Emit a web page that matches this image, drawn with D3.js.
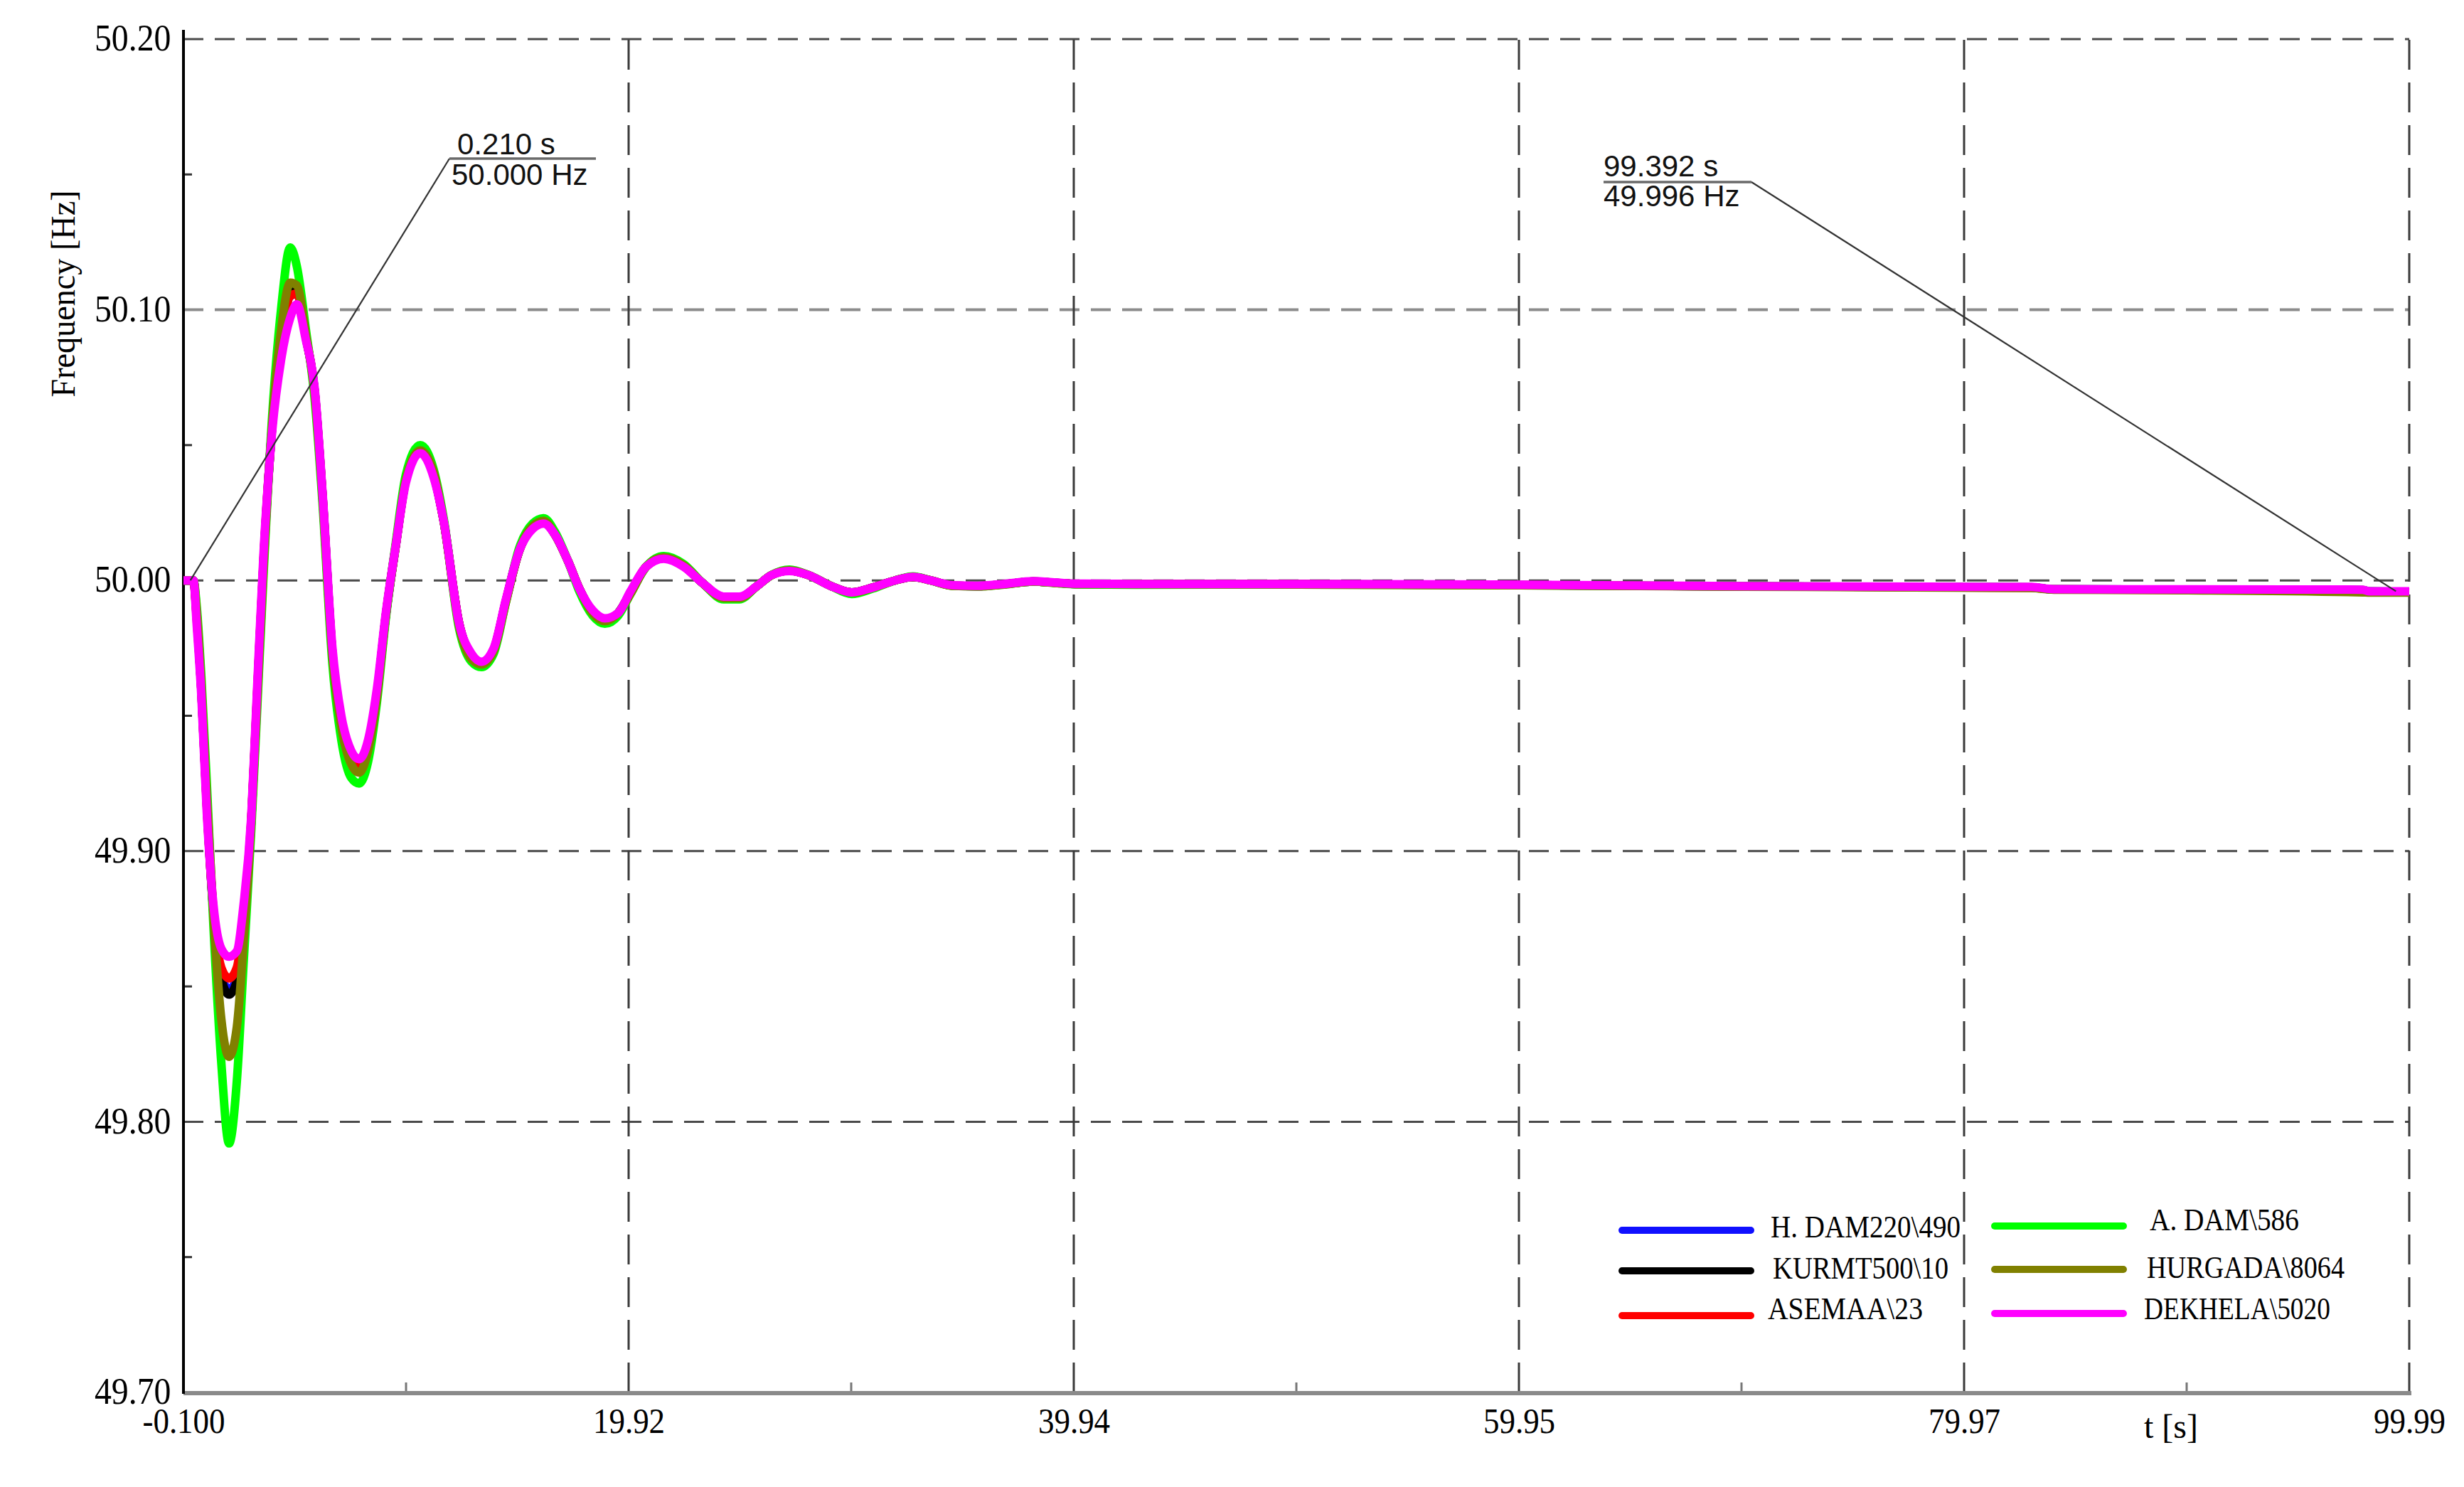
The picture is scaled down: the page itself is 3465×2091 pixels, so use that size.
<!DOCTYPE html>
<html>
<head>
<meta charset="utf-8">
<script src="https://cdn.jsdelivr.net/npm/d3@7"></script>
<style>
  html, body { margin: 0; padding: 0; background: #fff; }
  svg { display: block; }
</style>
</head>
<body>
<svg id="chart" width="3465" height="2091"></svg>
<script>
// ---------------- DATA ----------------
const time = [-0.1, 0.2, 0.35, 0.5, 0.7, 0.95, 1.25, 1.6, 1.95, 2.3,
  2.6, 2.95, 3.2, 3.5, 3.9, 4.3, 4.7, 5.0, 5.4, 5.8,
  6.15, 6.6, 7.0, 7.45, 7.8, 8.2, 8.6, 9.0, 9.45, 9.9,
  10.55, 11.15, 11.6, 12.3, 12.85, 13.3, 13.85, 14.4, 15.0, 15.6,
  16.1, 16.6, 17.2, 17.7, 18.3, 18.85, 19.45, 20.0, 20.7, 21.5,
  22.4, 23.25, 24.2, 24.9, 25.7, 26.35, 27.15, 28.0, 29.0, 29.95,
  30.9, 31.9, 32.7, 33.5, 34.5, 35.6, 36.8, 38.1, 39.2, 40.0,
  42.7, 50, 60, 70, 83, 84, 90, 97.9, 98.2, 99.99];

const hDam = [50.000, 50.000, 50.000, 49.986, 49.960, 49.917, 49.877, 49.854, 49.849, 49.853,
  49.874, 49.911, 49.955, 50.007, 50.058, 50.088, 50.105, 50.106, 50.090, 50.070,
  50.032, 49.973, 49.947, 49.933, 49.930, 49.938, 49.958, 49.987, 50.013, 50.037,
  50.048, 50.039, 50.022, 49.984, 49.972, 49.9694, 49.9744, 49.9925, 50.011, 50.0196,
  50.0216, 50.017, 50.007, 49.997, 49.9885, 49.9854, 49.988, 49.9955, 50.005, 50.0083,
  50.0053, 49.999, 49.9936, 49.9936, 49.998, 50.002, 50.0036, 50.002, 49.998, 49.9956,
  49.9974, 50.000, 50.0013, 50.000, 49.9981, 49.9979, 49.9986, 49.9996, 49.9991, 49.9987,
  49.9986, 49.9986, 49.9983, 49.9978, 49.9974, 49.9967, 49.9966, 49.9964, 49.9959, 49.9958];

const kurmt = [50.000, 50.000, 50.000, 49.986, 49.960, 49.917, 49.877, 49.853, 49.847, 49.852,
  49.873, 49.911, 49.955, 50.007, 50.058, 50.089, 50.106, 50.107, 50.090, 50.070,
  50.032, 49.973, 49.947, 49.933, 49.930, 49.938, 49.958, 49.987, 50.013, 50.037,
  50.048, 50.039, 50.022, 49.984, 49.972, 49.9693, 49.9743, 49.9925, 50.011, 50.0197,
  50.0217, 50.017, 50.007, 49.997, 49.9884, 49.9853, 49.988, 49.9955, 50.005, 50.0083,
  50.0053, 49.999, 49.9936, 49.9936, 49.998, 50.002, 50.0036, 50.002, 49.998, 49.9956,
  49.9974, 50.000, 50.0013, 50.000, 49.9981, 49.9979, 49.9986, 49.9996, 49.9991, 49.9987,
  49.9986, 49.9986, 49.9983, 49.9978, 49.9974, 49.9967, 49.9966, 49.9964, 49.9959, 49.9958];

const asemaa = [50.000, 50.000, 50.000, 49.985, 49.960, 49.916, 49.878, 49.857, 49.853, 49.857,
  49.876, 49.912, 49.956, 50.008, 50.058, 50.088, 50.105, 50.106, 50.090, 50.070,
  50.032, 49.973, 49.948, 49.934, 49.931, 49.939, 49.958, 49.987, 50.013, 50.037,
  50.048, 50.039, 50.022, 49.984, 49.972, 49.9695, 49.9745, 49.9925, 50.011, 50.0195,
  50.0215, 50.017, 50.007, 49.997, 49.9885, 49.9855, 49.988, 49.9955, 50.005, 50.0082,
  50.0052, 49.999, 49.9937, 49.9937, 49.998, 50.002, 50.0036, 50.002, 49.998, 49.9956,
  49.9974, 50.000, 50.0013, 50.000, 49.9981, 49.9979, 49.9986, 49.9996, 49.9991, 49.9987,
  49.9986, 49.9986, 49.9983, 49.9978, 49.9973, 49.9967, 49.9965, 49.9963, 49.9958, 49.9957];

const aDam = [50.000, 50.000, 50.000, 49.990, 49.965, 49.925, 49.872, 49.822, 49.792, 49.815,
  49.858, 49.908, 49.950, 50.002, 50.062, 50.101, 50.123, 50.116, 50.093, 50.067,
  50.029, 49.969, 49.941, 49.927, 49.925, 49.933, 49.955, 49.986, 50.014, 50.039,
  50.050, 50.041, 50.023, 49.982, 49.970, 49.968, 49.973, 49.992, 50.012, 50.021,
  50.023, 50.018, 50.007, 49.996, 49.987, 49.984, 49.987, 49.995, 50.005, 50.009,
  50.006, 49.999, 49.993, 49.993, 49.998, 50.002, 50.004, 50.002, 49.998, 49.995,
  49.997, 50.000, 50.0015, 50.000, 49.998, 49.9978, 49.9985, 49.9996, 49.999, 49.9986,
  49.9984, 49.9985, 49.9982, 49.9978, 49.9975, 49.9967, 49.9966, 49.9965, 49.9959, 49.9958];

const hurgada = [50.000, 50.000, 50.000, 49.988, 49.962, 49.920, 49.876, 49.838, 49.824, 49.835,
  49.866, 49.911, 49.953, 50.005, 50.059, 50.093, 50.110, 50.109, 50.091, 50.069,
  50.031, 49.972, 49.946, 49.932, 49.929, 49.937, 49.957, 49.987, 50.013, 50.037,
  50.048, 50.040, 50.022, 49.983, 49.971, 49.969, 49.974, 49.992, 50.011, 50.020,
  50.022, 50.017, 50.007, 49.997, 49.988, 49.985, 49.988, 49.995, 50.005, 50.0085,
  50.0055, 49.999, 49.9935, 49.9935, 49.998, 50.002, 50.0037, 50.002, 49.998, 49.9955,
  49.9973, 50.000, 50.0013, 50.000, 49.998, 49.9978, 49.9985, 49.9996, 49.999, 49.9987,
  49.9986, 49.9985, 49.9982, 49.9977, 49.9972, 49.9966, 49.9964, 49.9956, 49.9955, 49.9955];

const dekhela = [50.000, 50.000, 50.000, 49.983, 49.958, 49.914, 49.880, 49.864, 49.861, 49.863,
  49.880, 49.913, 49.958, 50.010, 50.056, 50.082, 50.097, 50.102, 50.089, 50.071,
  50.033, 49.975, 49.950, 49.937, 49.934, 49.941, 49.960, 49.988, 50.013, 50.036,
  50.047, 50.038, 50.022, 49.984, 49.973, 49.970, 49.975, 49.993, 50.011, 50.019,
  50.021, 50.017, 50.007, 49.997, 49.989, 49.986, 49.988, 49.996, 50.005, 50.008,
  50.005, 49.999, 49.994, 49.994, 49.998, 50.002, 50.0035, 50.002, 49.998, 49.9956,
  49.9974, 50.000, 50.0013, 50.000, 49.9982, 49.998, 49.9987, 49.9997, 49.9992, 49.9988,
  49.9987, 49.9987, 49.9984, 49.9979, 49.9976, 49.9968, 49.9967, 49.9966, 49.9960, 49.9960];

const seriesNames = ["H. DAM220\\490", "KURMT500\\10", "ASEMAA\\23", "A. DAM\\586", "HURGADA\\8064", "DEKHELA\\5020"];
const seriesColors = ["#1010ff", "#000000", "#ff0000", "#00ff00", "#808000", "#ff00ff"];
const seriesValues = [hDam, kurmt, asemaa, aDam, hurgada, dekhela];

const xTickValues = [-0.1, 19.918, 39.936, 59.954, 79.972, 99.99];
const xTickLabels = ["-0.100", "19.92", "39.94", "59.95", "79.97", "99.99"];
const xMinorTicks = [9.909, 29.927, 49.945, 69.963, 89.981];
const yTickValues = [49.70, 49.80, 49.90, 50.00, 50.10, 50.20];
const yTickLabels = ["49.70", "49.80", "49.90", "50.00", "50.10", "50.20"];
const yMinorTicks = [49.75, 49.85, 49.95, 50.05, 50.15];

const annotations = [
  { t: 0.210, f: 50.000, tLabel: "0.210 s", fLabel: "50.000 Hz" },
  { t: 99.392, f: 49.996, tLabel: "99.392 s", fLabel: "49.996 Hz" }
];

// ---------------- LAYOUT ----------------
const svg = d3.select("#chart");
const pL = 258, pR = 3388, pT = 55, pB = 1958;

const x = d3.scaleLinear().domain([-0.1, 99.99]).range([pL, pR]);
const y = d3.scaleLinear().domain([49.70, 50.20]).range([pB, pT]);

svg.append("rect").attr("width", 3465).attr("height", 2091).attr("fill", "#fff");

// horizontal grid
svg.append("g").selectAll("line")
  .data(yTickValues.filter(v => v > 49.70))
  .join("line")
  .attr("x1", pL).attr("x2", pR)
  .attr("y1", d => y(d)).attr("y2", d => y(d))
  .attr("stroke", d => Math.abs(d - 50.10) < 1e-6 ? "#8c8c8c" : "#4a4a4a")
  .attr("stroke-width", d => Math.abs(d - 50.10) < 1e-6 ? 4 : 3)
  .attr("stroke-dasharray", "28,16");

// vertical grid
svg.append("g").selectAll("line")
  .data(xTickValues.filter(v => v > -0.1))
  .join("line")
  .attr("x1", d => x(d)).attr("x2", d => x(d))
  .attr("y1", pB).attr("y2", pT - 6)
  .attr("stroke", "#3a3a3a")
  .attr("stroke-width", 3)
  .attr("stroke-dasharray", "42,18");

// minor ticks
svg.append("g").selectAll("line")
  .data(yMinorTicks).join("line")
  .attr("x1", pL).attr("x2", pL + 12)
  .attr("y1", d => y(d)).attr("y2", d => y(d))
  .attr("stroke", "#333").attr("stroke-width", 3);
svg.append("g").selectAll("line")
  .data(xMinorTicks).join("line")
  .attr("x1", d => x(d)).attr("x2", d => x(d))
  .attr("y1", pB).attr("y2", pB - 14)
  .attr("stroke", "#777").attr("stroke-width", 3);

// axes lines
svg.append("line").attr("x1", pL).attr("x2", pR + 3)
  .attr("y1", pB + 1).attr("y2", pB + 1)
  .attr("stroke", "#8a8a8a").attr("stroke-width", 6);
svg.append("line").attr("x1", pL).attr("x2", pL)
  .attr("y1", pT - 13).attr("y2", pB + 2)
  .attr("stroke", "#000").attr("stroke-width", 4);

// axis labels via d3 axes
const xAxis = d3.axisBottom(x).tickValues(xTickValues)
  .tickFormat((d, i) => xTickLabels[i]).tickSize(0).tickPadding(22);
const gx = svg.append("g").attr("transform", `translate(0,${pB})`).call(xAxis);
gx.select(".domain").remove();
gx.selectAll("text")
  .attr("font-family", "'Liberation Serif', 'Times New Roman', serif")
  .attr("font-size", 50).attr("fill", "#000")
  .attr("transform", "scale(0.9,1)");

const yAxis = d3.axisLeft(y).tickValues(yTickValues)
  .tickFormat((d, i) => yTickLabels[i]).tickSize(0).tickPadding(19);
const gy = svg.append("g").attr("transform", `translate(${pL},0)`).call(yAxis);
gy.select(".domain").remove();
gy.selectAll("text")
  .attr("font-family", "'Liberation Serif', 'Times New Roman', serif")
  .attr("font-size", 52).attr("fill", "#000")
  .attr("transform", "scale(0.92,1)")
  .attr("dy", "0.30em");

// axis titles
svg.append("text")
  .attr("transform", "translate(105,413) rotate(-90)")
  .attr("text-anchor", "middle")
  .attr("font-family", "'Liberation Serif', 'Times New Roman', serif")
  .attr("font-size", 48)
  .attr("textLength", 291).attr("lengthAdjust", "spacingAndGlyphs")
  .text("Frequency [Hz]");

svg.append("text")
  .attr("x", 3015).attr("y", 2022)
  .attr("font-family", "'Liberation Serif', 'Times New Roman', serif")
  .attr("font-size", 48)
  .text("t [s]");

// series lines
const line = d3.line()
  .x((d, i) => x(time[i]))
  .y(d => y(d))
  .curve(d3.curveMonotoneX);

svg.append("g").selectAll("path")
  .data(seriesValues)
  .join("path")
  .attr("d", d => line(d))
  .attr("fill", "none")
  .attr("stroke", (d, i) => seriesColors[i])
  .attr("stroke-width", 12)
  .attr("stroke-linejoin", "round");

// annotations
const annLayout = [
  { bx: 632, by: 223, len: 206, tx: 643, ty: 217, fx: 635, fy: 260 },
  { bx: 2255, by: 256, len: 208, tx: 2255, ty: 248, fx: 2255, fy: 290 }
];
annotations.forEach((a, i) => {
  const L = annLayout[i];
  const g = svg.append("g");
  const lx = i === 0 ? L.bx : L.bx + L.len;
  g.append("line")
    .attr("x1", lx).attr("y1", L.by)
    .attr("x2", x(a.t)).attr("y2", y(a.f))
    .attr("stroke", "#333").attr("stroke-width", 2.2);
  g.append("line")
    .attr("x1", L.bx).attr("x2", L.bx + L.len)
    .attr("y1", L.by).attr("y2", L.by)
    .attr("stroke", "#6a6a6a").attr("stroke-width", 3.5);
  g.append("text").attr("x", L.tx).attr("y", L.ty)
    .attr("font-family", "'Liberation Sans', Arial, sans-serif")
    .attr("font-size", 42).attr("fill", "#111")
    .text(a.tLabel);
  g.append("text").attr("x", L.fx).attr("y", L.fy)
    .attr("font-family", "'Liberation Sans', Arial, sans-serif")
    .attr("font-size", 42).attr("fill", "#111")
    .text(a.fLabel);
});

// legend
const legendPos = [
  { lx: 2281, ly: 1730, tx: 2490, ty: 1740, w: 267 },
  { lx: 2281, ly: 1787, tx: 2493, ty: 1798, w: 247 },
  { lx: 2281, ly: 1850, tx: 2486, ty: 1855, w: 218 },
  { lx: 2805, ly: 1724, tx: 3023, ty: 1730, w: 210 },
  { lx: 2805, ly: 1785, tx: 3019, ty: 1797, w: 278 },
  { lx: 2805, ly: 1847, tx: 3015, ty: 1855, w: 262 }
];
const lg = svg.append("g");
seriesNames.forEach((name, i) => {
  const p = legendPos[i];
  lg.append("line")
    .attr("x1", p.lx).attr("x2", p.lx + 181)
    .attr("y1", p.ly).attr("y2", p.ly)
    .attr("stroke", seriesColors[i]).attr("stroke-width", 10)
    .attr("stroke-linecap", "round");
  lg.append("text")
    .attr("x", p.tx).attr("y", p.ty)
    .attr("font-family", "'Liberation Serif', 'Times New Roman', serif")
    .attr("font-size", 44)
    .attr("textLength", p.w).attr("lengthAdjust", "spacingAndGlyphs")
    .text(name);
});
</script>
</body>
</html>
